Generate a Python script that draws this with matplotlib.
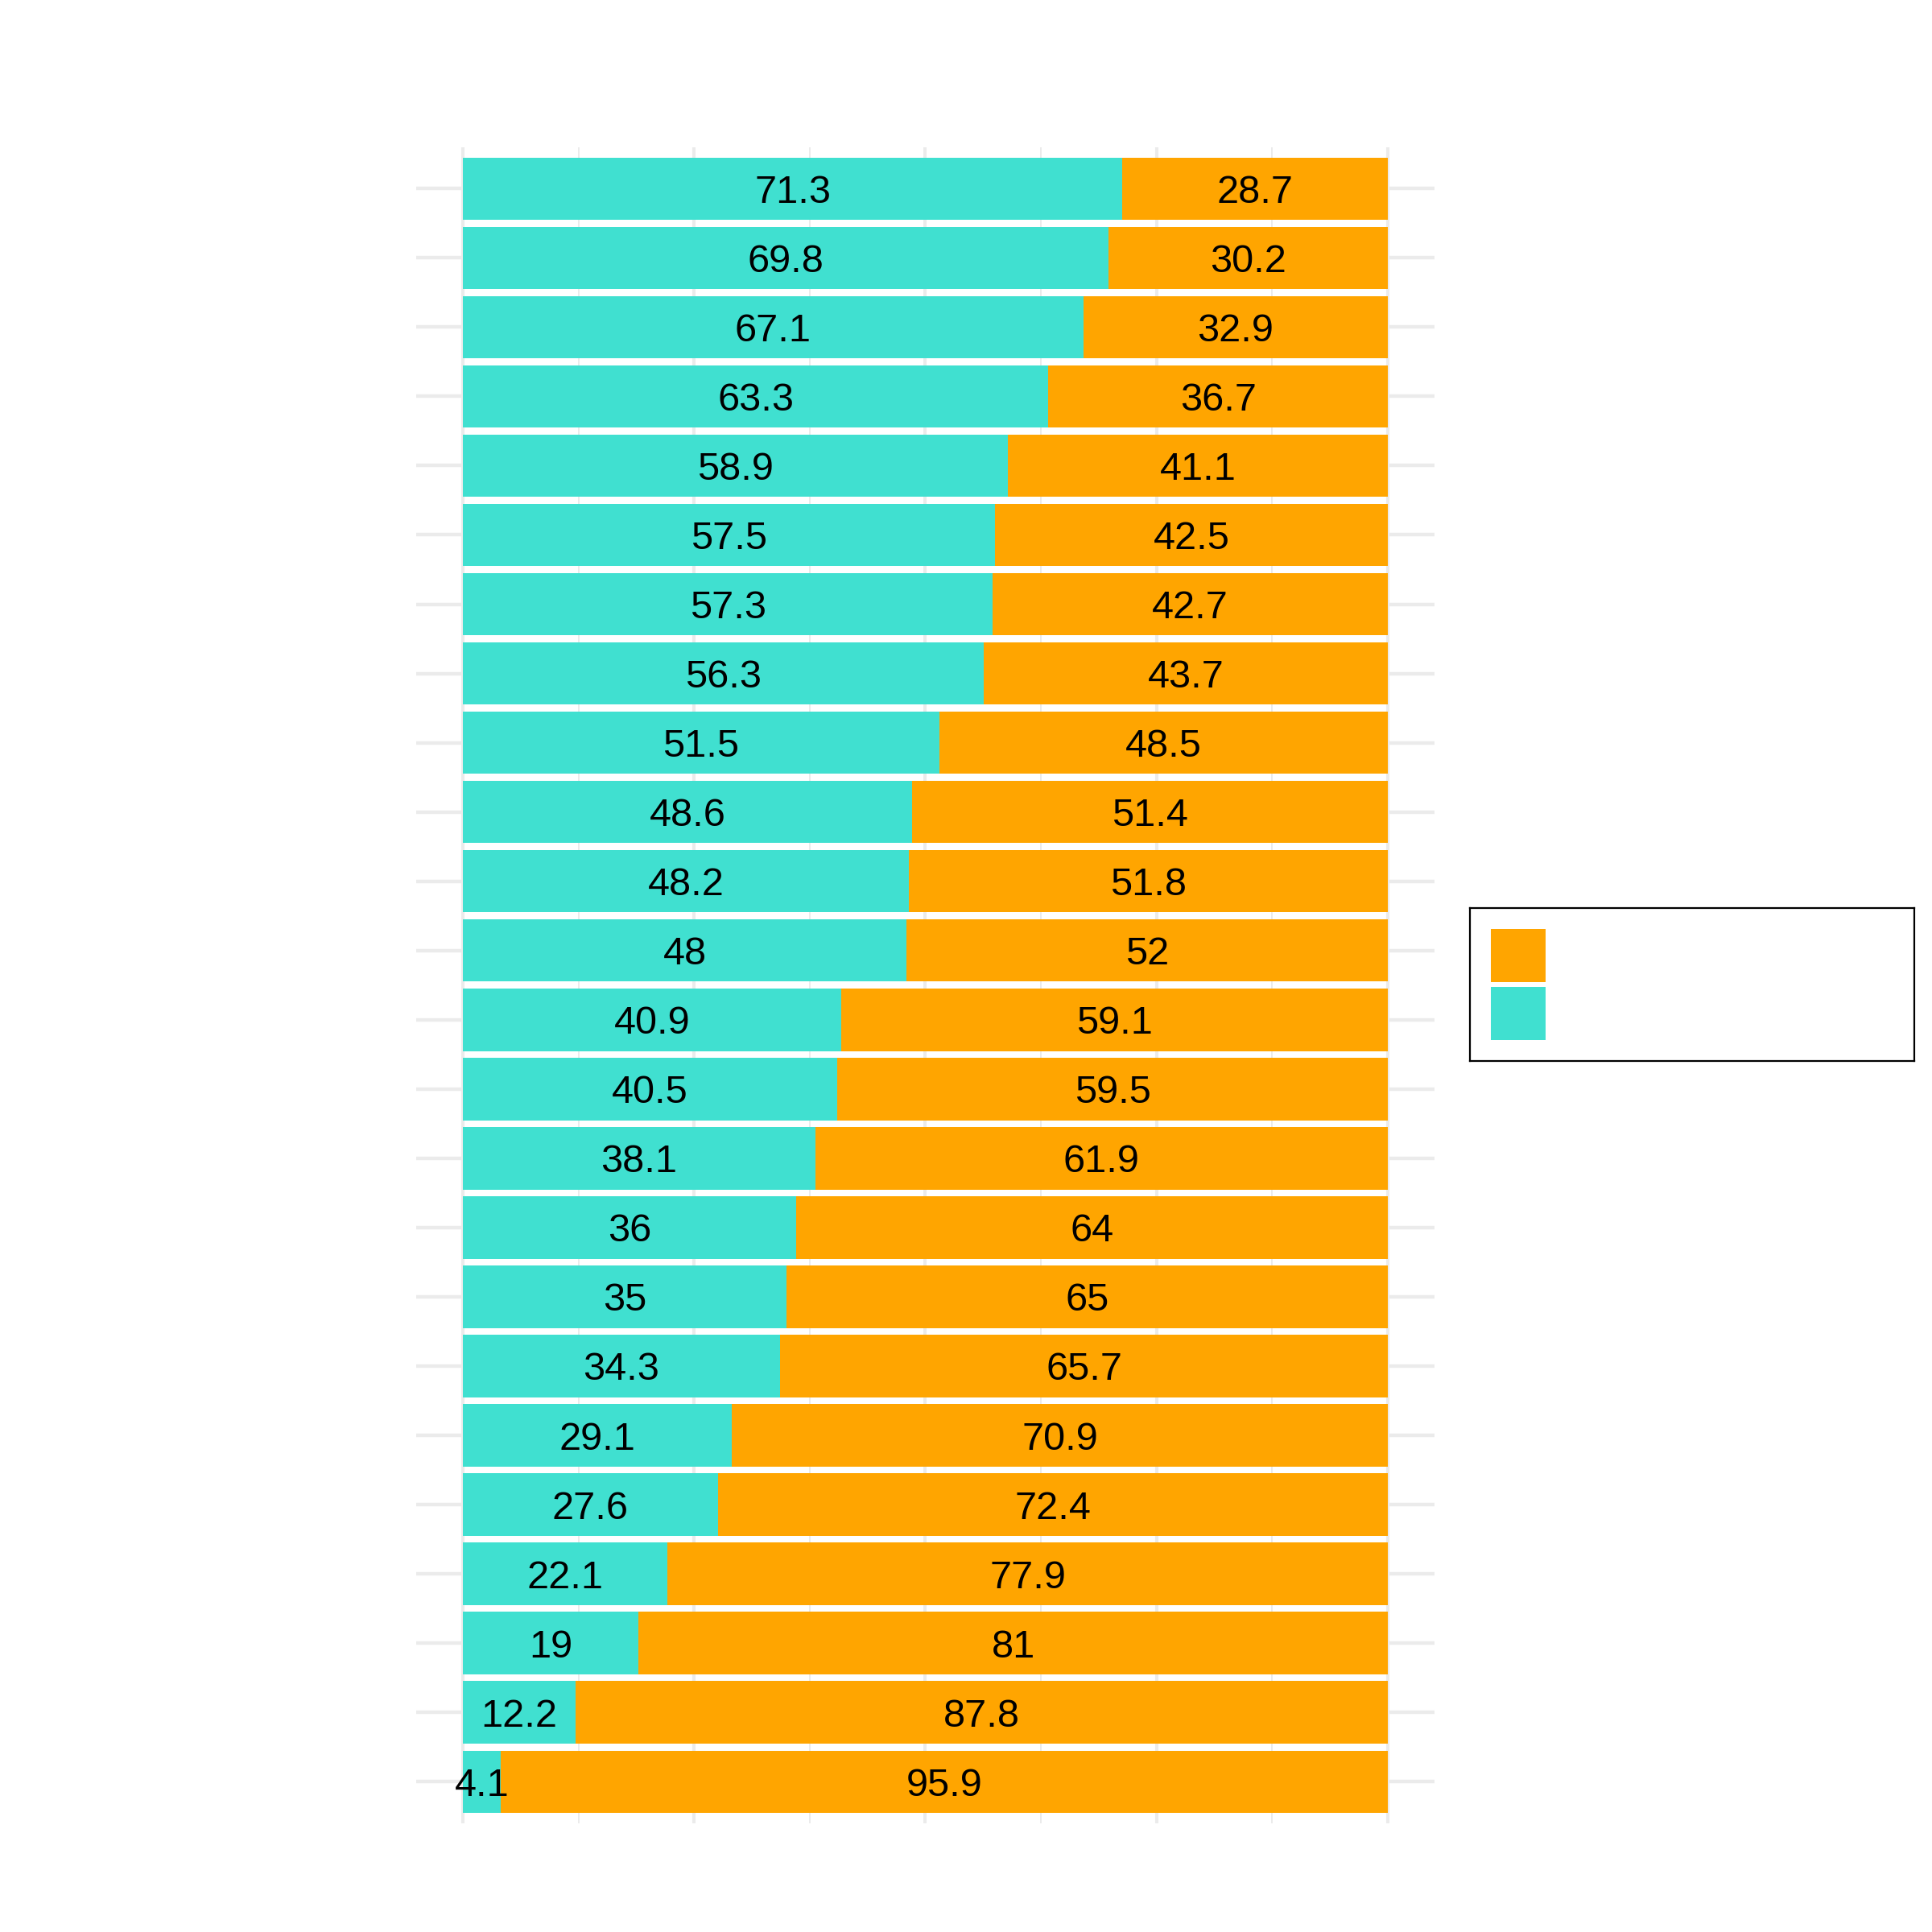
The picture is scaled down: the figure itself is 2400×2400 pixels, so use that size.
import numpy as np
import matplotlib.pyplot as plt
from matplotlib.patches import Rectangle

# share of each row, top row first
teal_values = [71.3, 69.8, 67.1, 63.3, 58.9, 57.5, 57.3, 56.3, 51.5, 48.6, 48.2, 48,
               40.9, 40.5, 38.1, 36, 35, 34.3, 29.1, 27.6, 22.1, 19, 12.2, 4.1]
orange_values = [28.7, 30.2, 32.9, 36.7, 41.1, 42.5, 42.7, 43.7, 48.5, 51.4, 51.8, 52,
                 59.1, 59.5, 61.9, 64, 65, 65.7, 70.9, 72.4, 77.9, 81, 87.8, 95.9]

TEAL = "#40E0D0"
ORANGE = "#FFA500"
GRID = "#EBEBEB"

plt.rcParams["font.family"] = ["Liberation Sans", "DejaVu Sans"]

fig = plt.figure(figsize=(12, 12), dpi=200)
ax = fig.add_axes([0.2156, 0.0563, 0.7423 - 0.2156, 0.9239 - 0.0563])

n = len(teal_values)
y = np.arange(n)[::-1]
teal = np.array(teal_values)
orange = np.array(orange_values)

ax.barh(y, teal, height=0.9, color=TEAL, zorder=2)
ax.barh(y, orange, left=teal, height=0.9, color=ORANGE, zorder=2)

for yi, t, o in zip(y, teal, orange):
    ax.text(t / 2, yi, f"{t:g}", ha="center", va="center_baseline", fontsize=17.5, zorder=3)
    ax.text(t + o / 2, yi, f"{o:g}", ha="center", va="center_baseline", fontsize=17.5, zorder=3)

ax.set_xlim(-5, 105)
ax.set_ylim(-0.6, n - 0.4)

# grid in the ggplot minimal style
for x in np.arange(0, 101, 25):
    ax.axvline(x, color=GRID, lw=1.45, zorder=0)
for x in np.arange(12.5, 100, 25):
    ax.axvline(x, color=GRID, lw=0.72, zorder=0)
for yi in y:
    ax.axhline(yi, color=GRID, lw=1.6, zorder=0)

ax.set_xticks([])
ax.set_yticks([])
for s in ax.spines.values():
    s.set_visible(False)

# legend box with empty labels
lax = fig.add_axes([0.761, 0.4508, 0.230, 0.0792])
lax.set_xlim(0, 1)
lax.set_ylim(0, 1)
lax.set_xticks([])
lax.set_yticks([])
for s in lax.spines.values():
    s.set_linewidth(0.8)
    s.set_color("black")
lax.add_patch(Rectangle((0.047, 0.516), 0.122, 0.347, color=ORANGE, lw=0))
lax.add_patch(Rectangle((0.047, 0.137), 0.122, 0.347, color=TEAL, lw=0))

fig.savefig("out.png", dpi=200)
